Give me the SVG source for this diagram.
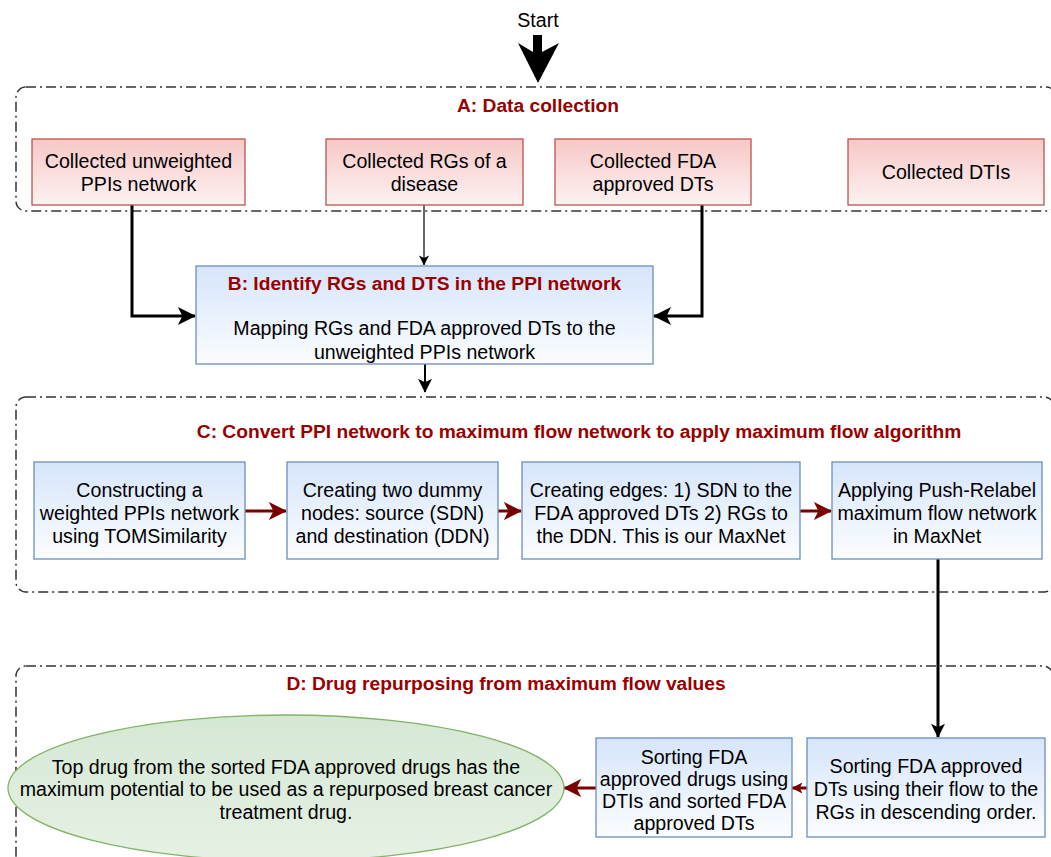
<svg xmlns="http://www.w3.org/2000/svg" width="1051" height="857" viewBox="0 0 1051 857">
<style>
  .t { font-family: "Liberation Sans", Arial, sans-serif; font-size: 19.6px; fill: #000; text-anchor: middle; }
  .title { font-family: "Liberation Sans", Arial, sans-serif; font-size: 19.2px; font-weight: bold; fill: #990000; text-anchor: middle; }
  .cont { fill: none; stroke: #333; stroke-width: 1.5; stroke-dasharray: 10 4 2 4; }
  .pink { fill: url(#gPink); stroke: #b85450; stroke-width: 1.3; }
  .blue { fill: url(#gBlue); stroke: #6c8ebf; stroke-width: 1.3; }
  .green { fill: url(#gGreen); stroke: #82b366; stroke-width: 1.3; }
  .blk { fill: none; stroke: #000; stroke-width: 3; }
  .red { fill: none; stroke: #7a0000; stroke-width: 3; }
</style>
<defs>
  <linearGradient id="gPink" x1="0" y1="0" x2="0" y2="1">
    <stop offset="0" stop-color="#f6c8c6"/>
    <stop offset="1" stop-color="#fdf2f2"/>
  </linearGradient>
  <linearGradient id="gBlue" x1="0" y1="0" x2="0" y2="1">
    <stop offset="0" stop-color="#d6e5fb"/>
    <stop offset="1" stop-color="#fbfdff"/>
  </linearGradient>
  <linearGradient id="gGreen" x1="0" y1="0" x2="0" y2="1">
    <stop offset="0" stop-color="#d5e8d4"/>
    <stop offset="1" stop-color="#e6f1e4"/>
  </linearGradient>
  <marker id="aBig" viewBox="0 0 20 20" refX="19" refY="10" markerWidth="20" markerHeight="18" markerUnits="userSpaceOnUse" orient="auto">
    <path d="M0,0 L20,10 L0,20 L5,10 Z" fill="#000"/>
  </marker>
  <marker id="aMid" viewBox="0 0 20 20" refX="19" refY="10" markerWidth="18" markerHeight="14" markerUnits="userSpaceOnUse" orient="auto">
    <path d="M0,0 L20,10 L0,20 L5,10 Z" fill="#000"/>
  </marker>
  <marker id="aSmall" viewBox="0 0 20 20" refX="19" refY="10" markerWidth="12" markerHeight="10" markerUnits="userSpaceOnUse" orient="auto">
    <path d="M0,0 L20,10 L0,20 L5,10 Z" fill="#000"/>
  </marker>
  <marker id="aRed" viewBox="0 0 20 20" refX="19" refY="10" markerWidth="18" markerHeight="18" markerUnits="userSpaceOnUse" orient="auto">
    <path d="M0,0 L20,10 L0,20 L5,10 Z" fill="#7a0000"/>
  </marker>
  <marker id="aRedS" viewBox="0 0 20 20" refX="19" refY="10" markerWidth="11" markerHeight="12" markerUnits="userSpaceOnUse" orient="auto">
    <path d="M0,0 L20,10 L0,20 L5,10 Z" fill="#7a0000"/>
  </marker>
</defs>

<rect width="1051" height="857" fill="#fff"/>

<!-- Containers -->
<g id="containerA">
  <rect class="cont" x="16" y="87" width="1040" height="124" rx="10"/>
  <text class="title" x="538" y="112">A: Data collection</text>
</g>
<g id="containerC">
  <rect class="cont" x="16" y="397" width="1038" height="195" rx="10"/>
  <text class="title" x="579" y="438">C: Convert PPI network to maximum flow network to apply maximum flow algorithm</text>
</g>
<g id="containerD">
  <rect class="cont" x="16" y="666" width="1037" height="210" rx="10"/>
  <text class="title" x="506" y="690">D: Drug repurposing from maximum flow values</text>
</g>

<!-- Start -->
<g id="start">
  <text class="t" x="538" y="27">Start</text>
  <polygon points="533,35 542,35 542,52 559,43 538,83 518,43 533,52" fill="#000"/>
</g>

<!-- Connectors -->
<g id="connectors">
  <polyline class="blk" points="132,205 132,316 195,316" marker-end="url(#aBig)"/>
  <line x1="424" y1="205" x2="424" y2="265" stroke="#000" stroke-width="1.2" marker-end="url(#aSmall)"/>
  <polyline class="blk" points="702,205 702,316 654,316" marker-end="url(#aBig)"/>
  <line x1="425" y1="364" x2="425" y2="392" stroke="#000" stroke-width="2" marker-end="url(#aMid)"/>
  <line class="red" x1="245" y1="511" x2="286" y2="511" marker-end="url(#aRed)"/>
  <line class="red" x1="498" y1="511" x2="521" y2="511" marker-end="url(#aRed)"/>
  <line class="red" x1="800" y1="511" x2="831" y2="511" marker-end="url(#aRed)"/>
  <line x1="938" y1="559" x2="938" y2="737" stroke="#000" stroke-width="3" marker-end="url(#aMid)"/>
  <line class="red" x1="807" y1="788" x2="792" y2="788" marker-end="url(#aRedS)"/>
  <line class="red" x1="596" y1="788" x2="564" y2="788" marker-end="url(#aRed)"/>
</g>

<!-- A nodes -->
<g id="nodeA1">
  <rect class="pink" x="32" y="139" width="213" height="66"/>
  <text class="t" x="138.5" y="168">Collected unweighted</text>
  <text class="t" x="138.5" y="191">PPIs network</text>
</g>
<g id="nodeA2">
  <rect class="pink" x="326" y="139" width="197" height="66"/>
  <text class="t" x="424.5" y="168">Collected RGs of a</text>
  <text class="t" x="424.5" y="191">disease</text>
</g>
<g id="nodeA3">
  <rect class="pink" x="555" y="139" width="196" height="66"/>
  <text class="t" x="653" y="168">Collected FDA</text>
  <text class="t" x="653" y="191">approved DTs</text>
</g>
<g id="nodeA4">
  <rect class="pink" x="848" y="139" width="196" height="66"/>
  <text class="t" x="946" y="179">Collected DTIs</text>
</g>

<!-- B node -->
<g id="nodeB">
  <rect class="blue" x="196" y="266" width="457" height="98"/>
  <text class="title" x="424.5" y="290">B: Identify RGs and DTS in the PPI network</text>
  <text class="t" x="424.5" y="335">Mapping RGs and FDA approved DTs to the</text>
  <text class="t" x="424.5" y="359">unweighted PPIs network</text>
</g>

<!-- C nodes -->
<g id="nodeC1">
  <rect class="blue" x="34" y="462" width="211" height="97"/>
  <text class="t" x="139.5" y="497">Constructing a</text>
  <text class="t" x="139.5" y="520">weighted PPIs network</text>
  <text class="t" x="139.5" y="543">using TOMSimilarity</text>
</g>
<g id="nodeC2">
  <rect class="blue" x="287" y="462" width="211" height="97"/>
  <text class="t" x="392.5" y="497">Creating two dummy</text>
  <text class="t" x="392.5" y="520">nodes: source (SDN)</text>
  <text class="t" x="392.5" y="543">and destination (DDN)</text>
</g>
<g id="nodeC3">
  <rect class="blue" x="522" y="462" width="278" height="97"/>
  <text class="t" x="661" y="497">Creating edges: 1) SDN to the</text>
  <text class="t" x="661" y="520">FDA approved DTs 2) RGs to</text>
  <text class="t" x="661" y="543">the DDN. This is our MaxNet</text>
</g>
<g id="nodeC4">
  <rect class="blue" x="832" y="462" width="210" height="97"/>
  <text class="t" x="937" y="497">Applying Push-Relabel</text>
  <text class="t" x="937" y="520">maximum flow network</text>
  <text class="t" x="937" y="543">in MaxNet</text>
</g>

<!-- D nodes -->
<g id="nodeD1">
  <rect class="blue" x="807" y="738" width="238" height="99"/>
  <text class="t" x="926" y="773">Sorting FDA approved</text>
  <text class="t" x="926" y="796">DTs using their flow to the</text>
  <text class="t" x="926" y="819">RGs in descending order.</text>
</g>
<g id="nodeD2">
  <rect class="blue" x="596" y="738" width="196" height="99"/>
  <text class="t" x="694" y="764">Sorting FDA</text>
  <text class="t" x="694" y="786">approved drugs using</text>
  <text class="t" x="694" y="808">DTIs and sorted FDA</text>
  <text class="t" x="694" y="830">approved DTs</text>
</g>
<g id="nodeEnd">
  <ellipse class="green" cx="286" cy="788" rx="278" ry="73"/>
  <text class="t" x="286" y="774">Top drug from the sorted FDA approved drugs has the</text>
  <text class="t" x="286" y="796">maximum potential to be used as a repurposed breast cancer</text>
  <text class="t" x="286" y="819">treatment drug.</text>
</g>
</svg>
